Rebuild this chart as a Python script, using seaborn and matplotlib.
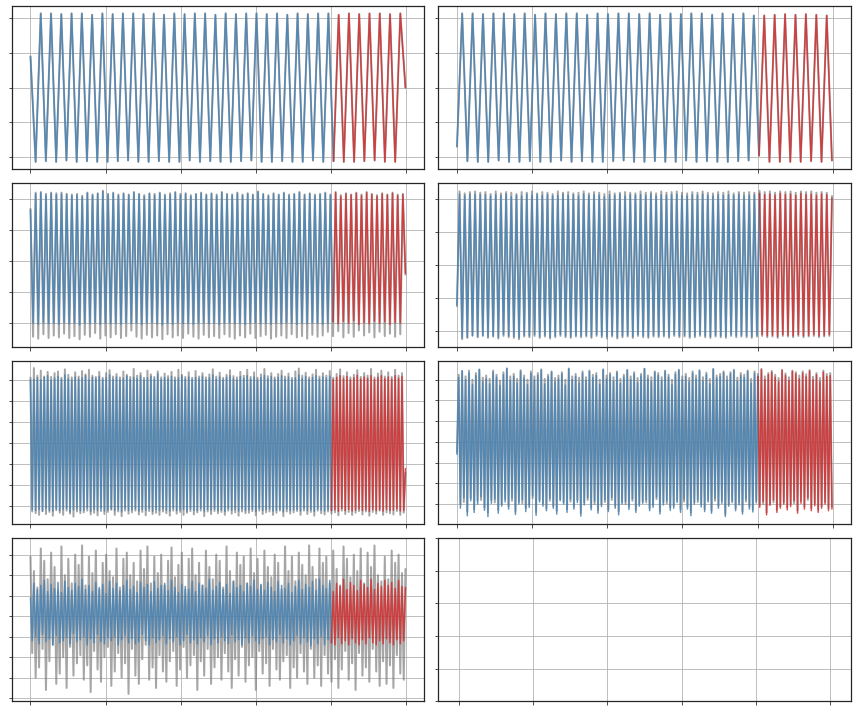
import numpy as np
import matplotlib
matplotlib.use("Agg")
import matplotlib.pyplot as plt
import seaborn as sns

sns.set_style("ticks")
plt.rcParams.update({
    "axes.linewidth": 1.25,
    "grid.color": "#b0b0b0",
    "grid.linewidth": 0.8,
})

# ------------------------------------------------
# DATA (turning points of each series)
# time index runs 0..499, first 400 points = train, rest = test
# ------------------------------------------------
N_POINTS = 500
TRAIN_END = 400

fit_1 = [
    0.45, -1.07, 1.07, -1.06, 1.07, -1.07, 1.06, -1.05, 1.07, -1.07, 1.07, -1.06, 1.05, -1.07, 1.07, -1.07,
    1.06, -1.06, 1.07, -1.05, 1.07, -1.07, 1.06, -1.07, 1.07, -1.06, 1.05, -1.07, 1.07, -1.07, 1.06, -1.05,
    1.07, -1.07, 1.07, -1.06, 1.05, -1.07, 1.07, -1.07, 1.06, -1.06, 1.07, -1.05, 1.07, -1.07, 1.06, -1.07,
    1.07, -1.06, 1.05, -1.07, 1.07, -1.07, 1.06, -1.05, 1.07, -1.07, 1.07, -1.06, 1.05, -1.07, 1.07, -1.07,
    1.06, -1.06, 1.07, -1.05, 1.07, -1.07, 1.06, -1.07, 1.07, 0.0,
]
actual_1 = list(fit_1)

fit_2 = [
    -0.85, 1.07, -1.06, 1.07, -1.07, 1.06, -1.07, 1.07, -1.05, 1.07, -1.07, 1.06, -1.07, 1.07, -1.06, 1.05,
    -1.07, 1.07, -1.07, 1.06, -1.05, 1.07, -1.07, 1.07, -1.06, 1.05, -1.07, 1.07, -1.07, 1.06, -1.06, 1.07,
    -1.05, 1.07, -1.07, 1.06, -1.07, 1.07, -1.06, 1.05, -1.07, 1.07, -1.07, 1.06, -1.05, 1.07, -1.07, 1.07,
    -1.06, 1.05, -1.07, 1.07, -1.07, 1.06, -1.06, 1.07, -1.05, 1.04, -0.98, 1.04, -1.07, 1.05, -1.07, 1.06,
    -1.07, 1.05, -1.07, 1.06, -1.06, 1.05, -1.07, 1.04, -1.05,
]
actual_2 = list(fit_2)

fit_3 = [
    0.82, -1.0, 1.08, -1.02, 1.1, -0.99, 1.06, -1.01, 1.09, -1.0, 1.07, -1.02, 1.08, -0.99, 1.07, -1.01,
    1.05, -1.0, 1.06, -1.03, 1.03, -1.0, 1.09, -1.01, 1.06, -0.99, 1.08, -1.02, 1.12, -1.0, 1.07, -1.01,
    1.09, -1.0, 1.05, -1.02, 1.08, -0.99, 1.06, -1.01, 1.1, -1.0, 1.07, -1.02, 1.04, -1.0, 1.08, -0.99,
    1.06, -1.01, 1.09, -1.03, 1.05, -1.0, 1.07, -1.02, 1.1, -0.99, 1.06, -1.01, 1.08, -1.0, 1.04, -1.02,
    1.07, -1.0, 1.09, -0.99, 1.06, -1.01, 1.08, -1.0, 1.05, -1.02, 1.1, -1.0, 1.07, -0.99, 1.06, -1.01,
    1.09, -1.0, 1.05, -1.02, 1.08, -1.0, 1.06, -0.99, 1.11, -1.01, 1.07, -1.0, 1.04, -1.02, 1.08, -1.0,
    1.06, -1.01, 1.09, -0.99, 1.05, -1.0, 1.07, -1.02, 1.1, -1.0, 1.06, -1.01, 1.08, -0.99, 1.05, -1.0,
    1.07, -1.02, 1.09, -1.0, 1.06, -0.98, 1.1, -1.01, 1.04, -0.97, 1.08, -1.0, 1.06, -0.96, 1.09, -1.02,
    1.05, -0.99, 1.1, -1.01, 1.07, -0.97, 1.04, -1.0, 1.08, -0.98, 1.06, -1.02, 1.09, -0.99, 1.05, -1.0,
    1.07, -0.2,
]
actual_3 = [
    0.84, -1.22, 1.1, -1.25, 1.11, -1.18, 1.08, -1.24, 1.1, -1.2, 1.09, -1.23, 1.1, -1.17, 1.08, -1.24,
    1.07, -1.21, 1.08, -1.26, 1.05, -1.19, 1.1, -1.22, 1.07, -1.16, 1.09, -1.25, 1.13, -1.2, 1.08, -1.23,
    1.1, -1.18, 1.07, -1.24, 1.09, -1.21, 1.07, -1.12, 1.11, -1.22, 1.08, -1.25, 1.06, -1.19, 1.09, -1.23,
    1.08, -1.2, 1.1, -1.26, 1.07, -1.18, 1.09, -1.23, 1.11, -1.2, 1.08, -1.24, 1.09, -1.17, 1.06, -1.22,
    1.08, -1.25, 1.1, -1.19, 1.07, -1.23, 1.09, -1.21, 1.07, -1.24, 1.11, -1.18, 1.08, -1.22, 1.07, -1.25,
    1.1, -1.2, 1.07, -1.23, 1.09, -1.17, 1.07, -1.24, 1.12, -1.21, 1.08, -1.19, 1.06, -1.25, 1.09, -1.22,
    1.07, -1.2, 1.1, -1.24, 1.07, -1.18, 1.08, -1.23, 1.11, -1.21, 1.07, -1.25, 1.09, -1.19, 1.07, -1.22,
    1.08, -1.2, 1.1, -1.14, 1.07, -1.21, 1.11, -1.13, 1.06, -1.23, 1.09, -1.16, 1.07, -1.22, 1.1, -1.12,
    1.07, -1.2, 1.11, -1.15, 1.08, -1.23, 1.06, -1.14, 1.09, -1.21, 1.07, -1.17, 1.1, -1.22, 1.07, -1.18,
    1.08, -0.22,
]

fit_4 = [
    -0.6, 1.08, -1.1, 1.06, -1.09, 1.08, -1.07, 1.07, -1.08, 1.07, -1.06, 1.07, -1.08, 1.05, -1.07, 1.07,
    -1.09, 1.06, -1.05, 1.08, -1.07, 1.04, -1.08, 1.06, -1.1, 1.05, -1.06, 1.08, -1.07, 1.06, -1.05, 1.07,
    -1.08, 1.06, -1.06, 1.07, -1.09, 1.05, -1.07, 1.06, -1.05, 1.08, -1.07, 1.06, -1.08, 1.07, -1.06, 1.05,
    -1.07, 1.08, -1.06, 1.06, -1.08, 1.07, -1.05, 1.06, -1.07, 1.04, -1.08, 1.07, -1.06, 1.06, -1.09, 1.08,
    -1.07, 1.05, -1.06, 1.07, -1.08, 1.06, -1.05, 1.07, -1.07, 1.06, -1.08, 1.08, -1.06, 1.05, -1.07, 1.07,
    -1.06, 1.06, -1.08, 1.07, -1.05, 1.08, -1.07, 1.06, -1.06, 1.05, -1.08, 1.07, -1.07, 1.06, -1.05, 1.08,
    -1.07, 1.06, -1.08, 1.05, -1.06, 1.07, -1.07, 1.06, -1.08, 1.07, -1.05, 1.06, -1.07, 1.08, -1.06, 1.05,
    -1.07, 1.06, -1.08, 1.07, -1.06, 1.09, -1.05, 1.07, -1.07, 1.08, -1.06, 1.06, -1.08, 1.09, -1.05, 1.07,
    -1.06, 1.08, -1.07, 1.06, -1.05, 1.09, -1.07, 1.07, -1.06, 1.08, -1.05, 1.06, -1.07, 1.08, -1.06, 1.07,
    -1.05, 1.02,
]
actual_4 = [
    -0.62, 1.12, -1.12, 1.09, -1.1, 1.11, -1.06, 1.12, -1.09, 1.1, -1.07, 1.11, -1.1, 1.08, -1.08, 1.12,
    -1.11, 1.09, -1.07, 1.11, -1.09, 1.1, -1.1, 1.08, -1.12, 1.11, -1.08, 1.1, -1.09, 1.12, -1.07, 1.09,
    -1.1, 1.11, -1.08, 1.1, -1.11, 1.08, -1.09, 1.12, -1.07, 1.1, -1.09, 1.11, -1.1, 1.09, -1.08, 1.1,
    -1.09, 1.12, -1.08, 1.09, -1.1, 1.11, -1.07, 1.1, -1.09, 1.08, -1.11, 1.12, -1.08, 1.09, -1.11, 1.1,
    -1.09, 1.11, -1.08, 1.1, -1.1, 1.09, -1.07, 1.12, -1.09, 1.1, -1.1, 1.11, -1.08, 1.09, -1.09, 1.12,
    -1.08, 1.1, -1.1, 1.11, -1.07, 1.12, -1.09, 1.1, -1.08, 1.09, -1.1, 1.11, -1.09, 1.1, -1.07, 1.12,
    -1.09, 1.1, -1.1, 1.09, -1.08, 1.11, -1.09, 1.1, -1.1, 1.12, -1.07, 1.09, -1.09, 1.11, -1.08, 1.1,
    -1.09, 1.11, -1.1, 1.1, -1.08, 1.13, -1.07, 1.11, -1.09, 1.12, -1.08, 1.1, -1.1, 1.12, -1.07, 1.11,
    -1.08, 1.12, -1.09, 1.1, -1.07, 1.12, -1.09, 1.11, -1.08, 1.12, -1.07, 1.1, -1.09, 1.11, -1.08, 1.1,
    -1.07, 1.05,
]

fit_5 = [
    1.5, -1.58, 1.52, -1.6, 1.55, -1.57, 1.5, -1.62, 1.56, -1.55, 1.6, -1.59, 1.49, -1.61, 1.54, -1.56,
    1.58, -1.6, 1.51, -1.57, 1.62, -1.55, 1.53, -1.63, 1.5, -1.58, 1.57, -1.56, 1.52, -1.6, 1.55, -1.59,
    1.6, -1.54, 1.5, -1.62, 1.56, -1.57, 1.53, -1.6, 1.58, -1.55, 1.51, -1.61, 1.55, -1.58, 1.62, -1.56,
    1.52, -1.6, 1.57, -1.57, 1.5, -1.63, 1.54, -1.55, 1.59, -1.6, 1.51, -1.58, 1.56, -1.56, 1.53, -1.61,
    1.6, -1.57, 1.5, -1.59, 1.55, -1.55, 1.58, -1.62, 1.52, -1.57, 1.64, -1.6, 1.51, -1.56, 1.56, -1.59,
    1.53, -1.61, 1.58, -1.55, 1.5, -1.6, 1.55, -1.58, 1.6, -1.57, 1.52, -1.62, 1.57, -1.56, 1.51, -1.59,
    1.56, -1.6, 1.53, -1.55, 1.59, -1.61, 1.5, -1.57, 1.55, -1.59, 1.62, -1.56, 1.52, -1.6, 1.57, -1.58,
    1.51, -1.62, 1.56, -1.55, 1.6, -1.59, 1.53, -1.57, 1.5, -1.61, 1.58, -1.56, 1.54, -1.6, 1.6, -1.58,
    1.52, -1.57, 1.57, -1.62, 1.5, -1.55, 1.55, -1.6, 1.61, -1.58, 1.53, -1.56, 1.58, -1.61, 1.51, -1.59,
    1.56, -1.57, 1.6, -1.63, 1.52, -1.56, 1.57, -1.6, 1.5, -1.58, 1.55, -1.57, 1.62, -1.61, 1.53, -1.55,
    1.58, -1.6, 1.51, -1.58, 1.56, -1.62, 1.6, -1.56, 1.52, -1.59, 1.57, -1.61, 1.54, -1.57, 1.59, -1.6,
    1.51, -1.58, 1.56, -1.62, 1.6, -1.55, 1.53, -1.6, 1.58, -1.57, 1.5, -1.61, 1.55, -1.59, 1.61, -1.56,
    1.52, -1.6, 1.57, -1.58, 1.54, -1.62, 1.6, -1.57, 1.51, -1.6, 1.56, -1.58, 1.6, -1.61, 1.53, -1.57,
    1.57, -1.6, 1.52, -1.59, 1.6, -1.56, 1.54, -1.61, 1.58, -1.6, -0.6,
]
actual_5 = [
    1.55, -1.62, 1.78, -1.66, 1.6, -1.7, 1.72, -1.6, 1.58, -1.68, 1.69, -1.63, 1.57, -1.72, 1.66, -1.59,
    1.7, -1.65, 1.55, -1.7, 1.75, -1.6, 1.62, -1.67, 1.56, -1.74, 1.68, -1.62, 1.58, -1.66, 1.71, -1.64,
    1.63, -1.6, 1.74, -1.69, 1.6, -1.65, 1.57, -1.71, 1.69, -1.61, 1.55, -1.68, 1.66, -1.63, 1.73, -1.58,
    1.58, -1.7, 1.64, -1.62, 1.56, -1.73, 1.7, -1.6, 1.62, -1.67, 1.57, -1.64, 1.76, -1.6, 1.6, -1.69,
    1.66, -1.63, 1.55, -1.71, 1.72, -1.61, 1.63, -1.68, 1.57, -1.65, 1.7, -1.7, 1.56, -1.62, 1.65, -1.66,
    1.59, -1.72, 1.69, -1.6, 1.56, -1.67, 1.74, -1.63, 1.62, -1.7, 1.57, -1.65, 1.68, -1.61, 1.55, -1.69,
    1.71, -1.64, 1.58, -1.6, 1.66, -1.73, 1.56, -1.62, 1.63, -1.68, 1.75, -1.61, 1.58, -1.66, 1.67, -1.63,
    1.55, -1.7, 1.62, -1.6, 1.73, -1.67, 1.59, -1.64, 1.56, -1.72, 1.69, -1.62, 1.6, -1.66, 1.74, -1.65,
    1.57, -1.61, 1.68, -1.71, 1.55, -1.6, 1.63, -1.68, 1.76, -1.64, 1.59, -1.62, 1.66, -1.7, 1.56, -1.65,
    1.64, -1.6, 1.72, -1.73, 1.58, -1.62, 1.65, -1.67, 1.55, -1.64, 1.7, -1.61, 1.77, -1.7, 1.6, -1.6,
    1.67, -1.68, 1.56, -1.63, 1.63, -1.72, 1.74, -1.6, 1.58, -1.66, 1.66, -1.69, 1.6, -1.62, 1.71, -1.67,
    1.55, -1.64, 1.64, -1.71, 1.75, -1.6, 1.59, -1.68, 1.68, -1.63, 1.56, -1.7, 1.62, -1.65, 1.73, -1.61,
    1.57, -1.69, 1.66, -1.62, 1.6, -1.72, 1.76, -1.63, 1.56, -1.67, 1.65, -1.6, 1.72, -1.7, 1.58, -1.64,
    1.68, -1.66, 1.57, -1.69, 1.74, -1.61, 1.6, -1.7, 1.66, -1.65, -0.7,
]

fit_6 = [
    -0.3, 1.55, -1.6, 1.72, -1.35, 1.5, -1.78, 1.66, -1.42, 1.38, -1.7, 1.6, -1.5, 1.75, -1.32, 1.45,
    -1.65, 1.52, -1.8, 1.4, -1.48, 1.68, -1.38, 1.56, -1.72, 1.36, -1.55, 1.62, -1.45, 1.78, -1.62, 1.48,
    -1.35, 1.58, -1.75, 1.42, -1.5, 1.7, -1.4, 1.54, -1.68, 1.38, -1.58, 1.65, -1.3, 1.5, -1.77, 1.6,
    -1.45, 1.73, -1.55, 1.4, -1.66, 1.57, -1.36, 1.68, -1.6, 1.44, -1.74, 1.52, -1.42, 1.64, -1.5, 1.37,
    -1.7, 1.76, -1.38, 1.5, -1.62, 1.58, -1.46, 1.42, -1.79, 1.66, -1.52, 1.48, -1.35, 1.7, -1.64, 1.55,
    -1.43, 1.6, -1.72, 1.39, -1.56, 1.74, -1.4, 1.52, -1.68, 1.62, -1.34, 1.46, -1.6, 1.67, -1.76, 1.41,
    -1.5, 1.56, -1.44, 1.72, -1.63, 1.5, -1.37, 1.64, -1.7, 1.43, -1.55, 1.59, -1.48, 1.77, -1.4, 1.53,
    -1.66, 1.45, -1.58, 1.68, -1.33, 1.6, -1.74, 1.48, -1.52, 1.7, -1.42, 1.56, -1.65, 1.38, -1.6, 1.63,
    -1.46, 1.73, -1.7, 1.5, -1.38, 1.58, -1.62, 1.44, -1.78, 1.66, -1.5, 1.52, -1.4, 1.71, -1.57, 1.47,
    -1.68, 1.62, -1.45, 1.4, -1.72, 1.75, -1.36, 1.54, -1.6, 1.58, -1.48, 1.67, -1.8, 1.49, -1.55, 1.64,
    -1.42, 1.72, -1.66, 1.46, -1.52, 1.6, -1.74, 1.55, -1.38, 1.7, -1.62, 1.42, -1.69, 1.65, -1.47, 1.58,
    -1.58, 1.74, -1.44, 1.5, -1.76, 1.62, -1.53, 1.68, -1.4, 1.56, -1.7, 1.45, -1.6, 1.72, -1.5, 1.6,
    -1.64, 1.48, -1.56, 1.7, -1.42, 1.64, -1.72, 1.52, -1.48, 1.66, -1.62, 1.57, -1.35, 1.71, -1.66, 1.5,
    -1.54, 1.62, -1.7, 1.45, -1.6, 1.68, -1.5, 1.58, -1.66, 1.6, -1.62,
]
actual_6 = [
    -0.25, 1.62, -1.5, 1.7, -1.45, 1.58, -1.68, 1.72, -1.36, 1.5, -1.62, 1.66, -1.42, 1.74, -1.4, 1.55,
    -1.58, 1.6, -1.7, 1.52, -1.4, 1.72, -1.46, 1.62, -1.64, 1.48, -1.5, 1.68, -1.38, 1.76, -1.55, 1.58,
    -1.42, 1.64, -1.68, 1.52, -1.44, 1.73, -1.48, 1.6, -1.6, 1.5, -1.52, 1.7, -1.36, 1.58, -1.7, 1.66,
    -1.4, 1.75, -1.48, 1.52, -1.6, 1.62, -1.42, 1.7, -1.55, 1.54, -1.66, 1.6, -1.38, 1.68, -1.45, 1.5,
    -1.62, 1.77, -1.44, 1.58, -1.56, 1.64, -1.4, 1.55, -1.72, 1.7, -1.46, 1.56, -1.4, 1.72, -1.58, 1.62,
    -1.5, 1.66, -1.65, 1.5, -1.5, 1.75, -1.45, 1.6, -1.62, 1.66, -1.4, 1.56, -1.54, 1.7, -1.68, 1.52,
    -1.45, 1.62, -1.5, 1.74, -1.56, 1.58, -1.42, 1.68, -1.64, 1.54, -1.48, 1.64, -1.44, 1.76, -1.46, 1.6,
    -1.6, 1.56, -1.52, 1.7, -1.38, 1.66, -1.67, 1.56, -1.46, 1.72, -1.48, 1.62, -1.58, 1.5, -1.54, 1.68,
    -1.42, 1.74, -1.63, 1.58, -1.44, 1.64, -1.56, 1.54, -1.7, 1.7, -1.45, 1.6, -1.45, 1.73, -1.5, 1.56,
    -1.62, 1.67, -1.4, 1.52, -1.66, 1.76, -1.42, 1.6, -1.54, 1.64, -1.42, 1.7, -1.74, 1.58, -1.5, 1.68,
    -1.46, 1.74, -1.6, 1.55, -1.46, 1.66, -1.68, 1.62, -1.44, 1.72, -1.56, 1.52, -1.63, 1.7, -1.42, 1.64,
    -1.52, 1.76, -1.5, 1.58, -1.7, 1.66, -1.48, 1.71, -1.46, 1.62, -1.64, 1.54, -1.55, 1.74, -1.45, 1.65,
    -1.58, 1.56, -1.5, 1.72, -1.48, 1.68, -1.66, 1.6, -1.42, 1.7, -1.56, 1.63, -1.4, 1.73, -1.6, 1.57,
    -1.48, 1.66, -1.64, 1.54, -1.55, 1.72, -1.45, 1.64, -1.6, 1.66, -1.56,
]

fit_7 = [
    0.9, -1.2, 1.6, -1.0, 1.3, -1.35, 1.5, -0.9, 1.75, -1.25, 1.2, -1.1, 1.55, -1.4, 1.35, -0.95,
    1.65, -1.3, 1.15, -1.2, 1.7, -1.05, 1.4, -1.35, 1.25, -0.85, 1.6, -1.25, 1.45, -1.15, 1.8, -1.0,
    1.3, -1.4, 1.5, -1.1, 1.2, -1.3, 1.65, -0.9, 1.4, -1.25, 1.55, -1.35, 1.1, -1.05, 1.7, -1.2,
    1.35, -1.0, 1.6, -1.4, 1.25, -1.15, 1.5, -0.95, 1.75, -1.3, 1.3, -1.1, 1.45, -1.35, 1.15, -1.25,
    1.65, -0.9, 1.4, -1.2, 1.55, -1.4, 1.2, -1.05, 1.7, -1.3, 1.35, -1.15, 1.5, -0.95, 1.6, -1.35,
    1.25, -1.1, 1.75, -1.25, 1.4, -1.0, 1.15, -1.4, 1.55, -1.2, 1.45, -0.9, 1.3, -1.3, 1.7, -1.15,
    1.2, -1.35, 1.6, -1.05, 1.5, -1.25, 1.35, -0.95, 1.8, -1.4, 1.25, -1.1, 1.45, -1.3, 1.65, -1.0,
    1.3, -1.2, 1.55, -1.35, 1.1, -0.9, 1.7, -1.25, 1.4, -1.15, 1.5, -1.4, 1.2, -1.05, 1.6, -1.3,
    1.45, -0.95, 1.75, -1.2, 1.3, -1.35, 1.55, -1.1, 1.25, -1.0, 1.65, -1.4, 1.4, -1.15, 1.2, -1.25,
    1.7, -0.9, 1.5, -1.3, 1.35, -1.1, 1.6, -1.4, 1.15, -1.2, 1.45, -0.95, 1.75, -1.35, 1.3, -1.05,
    1.55, -1.25, 1.4, -1.45, 1.7, -1.1, 1.25, -1.35, 1.8, -1.0, 1.5, -1.4, 1.35, -1.15, 1.75, -1.3,
    1.2, -1.4, 1.6, -1.05, 1.45, -1.35, 1.8, -1.2, 1.3, -1.4, 1.65, -1.1, 1.5, -1.3, 1.25, -1.4,
    1.75, -1.15, 1.55, -1.35, 1.4, -1.05, 1.8, -1.3, 1.3, -1.4, 1.6, -1.2, 1.45, -1.35, 1.75, -1.1,
    1.5, -1.3, 1.65, -1.4, 1.35, -1.15, 1.75, -1.35, 1.45, -1.2, 1.4,
]
actual_7 = [
    2.9, -1.8, 2.2, -3.0, 1.4, -2.5, 3.3, -1.6, 2.7, -3.6, 1.8, -2.2, 3.1, -1.4, 2.4, -3.3,
    1.2, -2.8, 3.4, -2.0, 2.0, -3.5, 2.8, -1.5, 1.6, -2.9, 3.0, -2.3, 2.5, -1.9, 3.45, -3.1,
    1.5, -2.4, 2.9, -3.7, 2.1, -1.7, 3.2, -2.6, 1.3, -3.2, 2.6, -2.0, 3.0, -1.5, 2.2, -3.4,
    1.9, -2.7, 3.3, -1.8, 1.4, -3.0, 2.8, -2.3, 3.1, -3.79, 2.0, -1.6, 2.6, -2.9, 1.7, -3.3,
    3.2, -2.1, 2.3, -1.4, 3.4, -3.1, 1.6, -2.5, 2.9, -3.5, 2.1, -1.9, 3.0, -2.7, 1.5, -3.2,
    2.7, -2.2, 3.35, -1.7, 1.9, -3.4, 2.5, -2.6, 3.1, -1.5, 1.3, -3.0, 2.8, -2.4, 3.3, -1.9,
    2.0, -3.6, 2.6, -2.2, 1.5, -2.9, 3.2, -1.6, 2.4, -3.3, 1.8, -2.5, 3.0, -2.0, 2.7, -3.1,
    1.4, -1.8, 3.4, -2.7, 2.2, -3.5, 1.7, -2.1, 3.1, -2.9, 2.5, -1.5, 2.9, -3.2, 1.6, -2.4,
    3.3, -2.0, 2.1, -3.6, 2.8, -1.7, 1.5, -2.8, 3.2, -2.3, 2.4, -3.4, 1.9, -1.6, 3.0, -2.6,
    2.6, -3.1, 1.3, -2.2, 3.4, -1.9, 2.2, -3.5, 2.9, -2.5, 1.7, -3.0, 3.1, -1.8, 2.5, -2.7,
    2.0, -3.3, 3.45, -1.6, 2.4, -3.0, 1.8, -2.4, 3.3, -3.4, 2.6, -1.9, 2.9, -2.8, 1.6, -3.2,
    3.2, -2.1, 2.3, -3.5, 1.5, -2.6, 3.4, -1.7, 2.8, -3.1, 1.9, -2.3, 3.0, -3.6, 2.2, -1.8,
    3.3, -2.9, 1.6, -2.5, 3.1, -3.2, 2.4, -1.6, 3.45, -2.7, 2.0, -3.4, 1.7, -2.2, 2.9, -3.3,
    1.8, -2.4, 3.2, -3.5, 2.6, -1.9, 3.0, -2.8, 2.1, -3.1, 2.3,
]

panels = [
    (fit_1, actual_1),
    (fit_2, actual_2),
    (fit_3, actual_3),
    (fit_4, actual_4),
    (fit_5, actual_5),
    (fit_6, actual_6),
    (fit_7, actual_7),
]

# ------------------------------------------------
# PLOT
# ------------------------------------------------
fig, axes = plt.subplots(4, 2, figsize=(856 / 72, 712 / 72), dpi=72)
fig.subplots_adjust(left=0.0137, right=0.9938, top=0.9916, bottom=0.0150,
                    wspace=0.034, hspace=0.0857)

for ax, (fit, actual) in zip(axes.flat, panels):
    assert len(fit) == len(actual), (len(fit), len(actual))
    t = np.linspace(0, N_POINTS - 1, len(fit))
    k = np.searchsorted(t, TRAIN_END)
    fit = np.asarray(fit)

    sns.lineplot(x=t, y=actual, color="gray", alpha=0.7, linewidth=2, ax=ax)
    sns.lineplot(x=t[:k + 1], y=fit[:k + 1], color="steelblue", alpha=0.85, linewidth=1.5, ax=ax)
    sns.lineplot(x=t[k:], y=fit[k:], color="tab:red", alpha=0.8, linewidth=1.5, ax=ax)

# empty last panel
axes.flat[7].set_xlim(-0.055, 1.055)
axes.flat[7].set_ylim(0, 1)

for ax in axes.flat:
    ax.grid(True)
    ax.tick_params(labelbottom=False, labelleft=False)

fig.savefig("out.png", dpi=72)
